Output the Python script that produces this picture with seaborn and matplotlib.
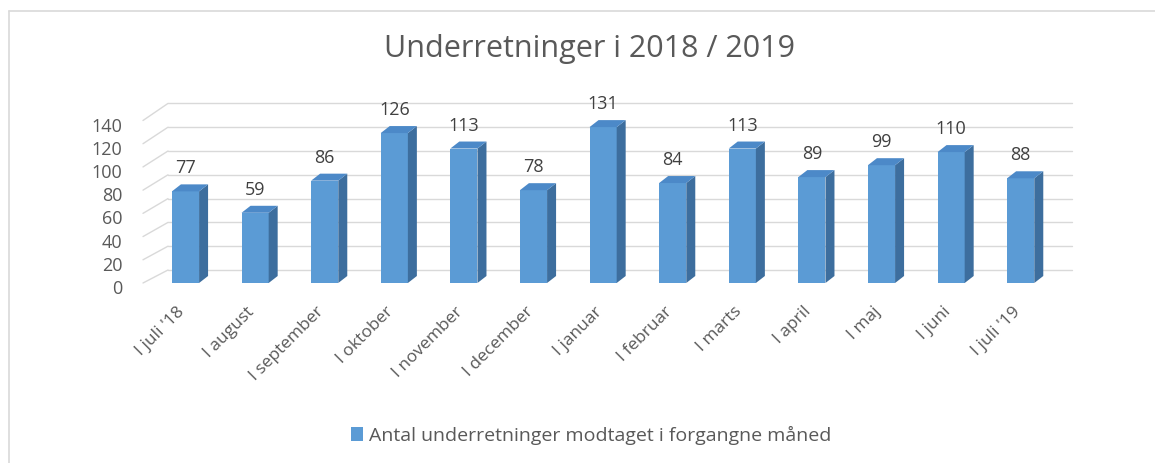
import numpy as np
import pandas as pd
import matplotlib
matplotlib.use("Agg")
import matplotlib.pyplot as plt
import seaborn as sns
from matplotlib.patches import Polygon, ConnectionPatch
from matplotlib.transforms import ScaledTranslation
from matplotlib.lines import Line2D

# ---- data ----
months = ["I juli '18", "I august", "I september", "I oktober", "I november",
          "I december", "I januar", "I februar", "I marts", "I april",
          "I maj", "I juni", "I juli '19"]
values = [77, 59, 86, 126, 113, 78, 131, 84, 113, 89, 99, 110, 88]
yticks = [0, 20, 40, 60, 80, 100, 120, 140]
title = "Underretninger i 2018 / 2019"
series_name = "Antal underretninger modtaget i forgangne måned"

# ---- style ----
FRONT = "#5B9BD5"
SIDE = "#3D6E9E"
TOP = "#4C89C8"
GRID = "#D9D9D9"
TXT = "#595959"
LBL = "#404040"

sns.set_theme(style="white")
plt.rcParams['font.family'] = ['Open Sans', 'DejaVu Sans']

W, H = 1155, 463
fig = plt.figure(figsize=(W / 100, H / 100), dpi=100)
fig.patch.set_facecolor("white")


def fx(px):
    return px / W


def fy(py):
    return 1 - py / H


spacing = 69.6          # px between bar centres
c0 = 185.5              # px of first bar centre
left_px, right_px = 143, 1072
base_px = 283
scale = 1.19            # px per unit on bar plane
back_dy = 13            # back wall is shifted up (px)
back_left_px = 168

ax = fig.add_axes([fx(left_px), fy(base_px), (right_px - left_px) / W, 140 * scale / H])
ax.set_facecolor("none")
df = pd.DataFrame({"month": months, "value": values})
sns.barplot(data=df, x="month", y="value", ax=ax, color=FRONT, width=0.39,
            saturation=1, label=series_name, zorder=3, linewidth=0)
ax.set_xlim((left_px - c0) / spacing, (right_px - c0) / spacing)
ax.set_ylim(0, 140)
for s in ax.spines.values():
    s.set_visible(False)
ax.set_xlabel("")
ax.set_ylabel("")
ax.tick_params(axis="y", left=False, labelleft=False)
ax.tick_params(axis="x", bottom=False, length=0, pad=19)
ax.set_xticks(range(len(months)))
ax.set_xticklabels(months, rotation=45, ha="right", va="center",
                   rotation_mode="anchor", fontsize=12.5, color=TXT)
for lab in ax.get_xticklabels():
    lab.set_transform(lab.get_transform() + ScaledTranslation(-3 / 100, 0, fig.dpi_scale_trans))

# back wall gridlines
back_tr = ax.transData + ScaledTranslation(0, back_dy / 100, fig.dpi_scale_trans)
xb0 = (back_left_px - c0) / spacing
xb1 = (right_px - c0) / spacing
for v in yticks:
    ax.add_line(Line2D([xb0, xb1], [v, v], color=GRID, lw=1, transform=back_tr,
                       clip_on=False, zorder=1))

# front plane axis for tick labels
ax_front = fig.add_axes([fx(left_px), fy(287), 0.01, (287 - 124.5) / H], frameon=False)
ax_front.set_xlim(0, 1)
ax_front.set_ylim(0, 140)
ax_front.set_xticks([])
ax_front.set_yticks(yticks)
ax_front.set_yticklabels([str(v) for v in yticks])
ax_front.tick_params(axis="y", length=0, pad=15, labelsize=13, labelcolor=TXT)
ax_front.patch.set_visible(False)

front_tr = ax_front.transData + ScaledTranslation(0, 4 / 100, fig.dpi_scale_trans)
for v in yticks:
    cp = ConnectionPatch(xyA=(0, v), coordsA=front_tr, xyB=(xb0, v), coordsB=back_tr,
                         color=GRID, lw=1, zorder=1)
    fig.add_artist(cp)

# 3D faces on bars
T = ax.transData
Ti = T.inverted()
d = np.array([9.0, 7.0])
for p, v in zip(ax.patches, values):
    x0 = p.get_x()
    w = p.get_width()
    h = p.get_height()
    A = T.transform((x0 + w, 0))
    B = T.transform((x0 + w, h))
    C = T.transform((x0, h))
    side = Ti.transform(np.array([A, B, B + d, A + d]))
    top = Ti.transform(np.array([C, B, B + d, C + d]))
    ax.add_patch(Polygon(side, closed=True, facecolor=SIDE, edgecolor="none", zorder=3, clip_on=False))
    ax.add_patch(Polygon(top, closed=True, facecolor=TOP, edgecolor="none", zorder=3, clip_on=False))
    ax.annotate(str(v), xy=(x0 + w / 2, h), xytext=(0, 16.5), textcoords="offset points",
                ha="center", va="center", fontsize=13, color=LBL, annotation_clip=False)

# legend
handles, labels = ax.get_legend_handles_labels()
if ax.get_legend() is not None:
    ax.get_legend().remove()
fig.legend(handles, labels, loc="center", bbox_to_anchor=(fx(591), fy(435)),
           frameon=False, handlelength=0.6, handleheight=0.7, handletextpad=0.3,
           fontsize=14, labelcolor=TXT)

# title
fig.text(fx(590), fy(57), title, ha="center", va="baseline", fontsize=22, color=TXT)

# chart border (left & top visible)
fig.add_artist(Line2D([fx(8.5), fx(8.5)], [fy(10.5), 0], color=GRID, lw=1.2))
fig.add_artist(Line2D([fx(8.5), 1], [fy(10.5), fy(10.5)], color=GRID, lw=1.2))

fig.savefig("out.png", dpi=100, facecolor="white")
